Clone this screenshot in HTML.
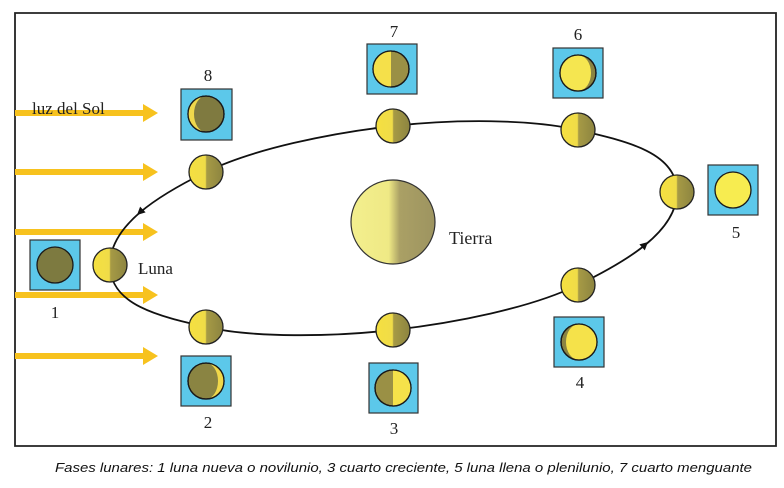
<!DOCTYPE html>
<html><head><meta charset="utf-8"><style>
html,body{margin:0;padding:0;background:#fff;}
svg{display:block;}
</style></head><body>
<svg width="784" height="488" viewBox="0 0 784 488" xmlns="http://www.w3.org/2000/svg">
<defs>
<linearGradient id="half" x1="0" x2="1" y1="0" y2="0">
<stop offset="0" stop-color="#f5e040"/><stop offset="0.48" stop-color="#f0dc48"/><stop offset="0.52" stop-color="#a69a45"/><stop offset="1" stop-color="#8c8440"/>
</linearGradient>
<linearGradient id="earth" x1="0" x2="1" y1="0" y2="0">
<stop offset="0" stop-color="#f3ef8e"/><stop offset="0.45" stop-color="#efe985"/><stop offset="0.58" stop-color="#aaa065"/><stop offset="1" stop-color="#9d9460"/>
</linearGradient>
</defs>
<path d="M15,13 L776,13 L776,446 L15,446 Z" fill="none" stroke="#222" stroke-width="1.8"/>

<g fill="#f7c21e">
<path d="M15,110 L143,110 L143,104 L158,113 L143,122 L143,116 L15,116 Z"/>
<path d="M15,169 L143,169 L143,163 L158,172 L143,181 L143,175 L15,175 Z"/>
<path d="M15,229 L143,229 L143,223 L158,232 L143,241 L143,235 L15,235 Z"/>
<path d="M15,292 L143,292 L143,286 L158,295 L143,304 L143,298 L15,298 Z"/>
<path d="M15,353 L143,353 L143,347 L158,356 L143,365 L143,359 L15,359 Z"/>
</g>
<text x="32" y="114" font-family="Liberation Serif, serif" font-size="17" fill="#222">luz del Sol</text>

<path d="M110,265 C110,225 158.8,195.2 206,172 C253.2,148.8 331,133 393,126 C455,119 530.7,119 578,130 C625.3,141 677,152 677,192 C677,232 625.3,262 578,285 C530.7,308 455,323 393,330 C331,337 253.2,337.8 206,327 C158.8,316.2 110,305 110,265 Z" fill="none" stroke="#111" stroke-width="1.8"/>
<path d="M137,215 L145.6,212.4 L140.1,206.6 Z" fill="#111"/>
<path d="M648,242 L644.8,250.4 L639.4,244.4 Z" fill="#111"/>

<circle cx="393" cy="222" r="42" fill="url(#earth)" stroke="#333" stroke-width="1.2"/>
<text x="449" y="244" font-family="Liberation Serif, serif" font-size="18" fill="#222">Tierra</text>

<g stroke="#222" stroke-width="1.3" fill="url(#half)">
<circle cx="110" cy="265" r="17"/>
<circle cx="206" cy="172" r="17"/>
<circle cx="393" cy="126" r="17"/>
<circle cx="578" cy="130" r="17"/>
<circle cx="677" cy="192" r="17"/>
<circle cx="578" cy="285" r="17"/>
<circle cx="393" cy="330" r="17"/>
<circle cx="206" cy="327" r="17"/>
</g>
<text x="138" y="274" font-family="Liberation Serif, serif" font-size="17" fill="#222">Luna</text>

<g fill="#5cc8ea" stroke="#333" stroke-width="1.2">
<rect x="30" y="240" width="50" height="50"/>
<rect x="181" y="356" width="50" height="50"/>
<rect x="369" y="363" width="49" height="50"/>
<rect x="554" y="317" width="50" height="50"/>
<rect x="708" y="165" width="50" height="50"/>
<rect x="553" y="48" width="50" height="50"/>
<rect x="367" y="44" width="50" height="50"/>
<rect x="181" y="89" width="51" height="51"/>
</g>

<g stroke="#1a1a1a" stroke-width="1.3">
<circle cx="55" cy="265" r="18" fill="#7d7a40"/>
<circle cx="206" cy="381" r="18" fill="#8a8442"/>
<path d="M206,363 A18 18 0 0 1 206,399 A12 18 0 0 0 206,363 Z" fill="#f0d84a" stroke="none"/>
<circle cx="206" cy="381" r="18" fill="none"/>
<circle cx="393" cy="388" r="18" fill="#9a9045"/>
<path d="M393,370 A18 18 0 0 1 393,406 Z" fill="#f5e24a" stroke="none"/>
<circle cx="393" cy="388" r="18" fill="none"/>
<circle cx="579" cy="342" r="18" fill="#8a8442"/>
<path d="M579,324 A18 18 0 0 1 579,360 A13 18 0 0 1 579,324 Z" fill="#f5e24a" stroke="none"/>
<circle cx="579" cy="342" r="18" fill="none"/>
<circle cx="733" cy="190" r="18" fill="#f7ec50"/>
<circle cx="578" cy="73" r="18" fill="#8a8442"/>
<path d="M578,55 A18 18 0 0 0 578,91 A13 18 0 0 0 578,55 Z" fill="#f5e650" stroke="none"/>
<circle cx="578" cy="73" r="18" fill="none"/>
<circle cx="391" cy="69" r="18" fill="#9a9045"/>
<path d="M391,51 A18 18 0 0 0 391,87 Z" fill="#f5e04a" stroke="none"/>
<circle cx="391" cy="69" r="18" fill="none"/>
<circle cx="206" cy="114" r="18" fill="#7f7a40"/>
<path d="M206,96 A18 18 0 0 0 206,132 A12 18 0 0 1 206,96 Z" fill="#efd84c" stroke="none"/>
<circle cx="206" cy="114" r="18" fill="none"/>
</g>

<g font-family="Liberation Serif, serif" font-size="17" fill="#222" text-anchor="middle">
<text x="55" y="318">1</text>
<text x="208" y="428">2</text>
<text x="394" y="434">3</text>
<text x="580" y="388">4</text>
<text x="736" y="238">5</text>
<text x="578" y="40">6</text>
<text x="394" y="37">7</text>
<text x="208" y="81">8</text>
</g>

<text x="55" y="472" font-family="Liberation Sans, sans-serif" font-style="italic" font-size="13" fill="#111" textLength="697" lengthAdjust="spacingAndGlyphs">Fases lunares: 1 luna nueva o novilunio, 3 cuarto creciente, 5 luna llena o plenilunio, 7 cuarto menguante</text>
</svg>
</body></html>
